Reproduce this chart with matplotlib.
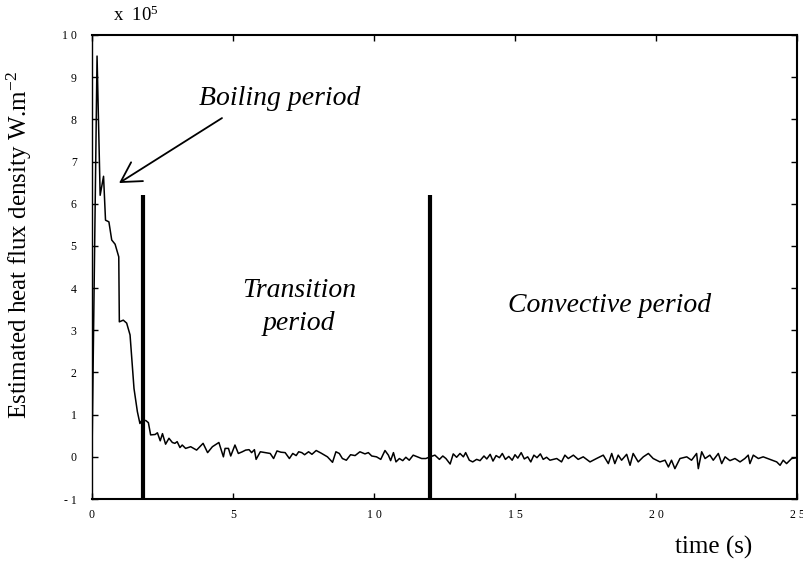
import matplotlib
matplotlib.use("Agg")
import matplotlib.pyplot as plt

plt.rcParams['font.family'] = ['Liberation Serif', 'DejaVu Serif']
plt.rcParams['mathtext.fontset'] = 'custom'
plt.rcParams['mathtext.rm'] = 'Liberation Serif'
plt.rcParams['mathtext.it'] = 'Liberation Serif:italic'

# ---- data (flux in units of 1e5 W.m-2) ----
time_s = [0.0, 0.18, 0.29, 0.41, 0.48, 0.60, 0.70, 0.82, 0.95, 0.97, 1.11, 1.23, 1.35, 1.49, 1.61, 1.70,
          1.77, 1.91, 2.00, 2.08, 2.24, 2.32, 2.42, 2.50, 2.61, 2.73, 2.85, 2.94, 3.02, 3.12, 3.20, 3.32,
          3.50, 3.71, 3.94, 4.10, 4.27, 4.50, 4.66, 4.72, 4.84, 4.92, 5.07, 5.19, 5.33, 5.45, 5.57, 5.66,
          5.76, 5.82, 5.97, 6.15, 6.32, 6.44, 6.56, 6.70, 6.85, 7.00, 7.12, 7.24, 7.33, 7.44, 7.54, 7.68,
          7.80, 7.95, 8.12, 8.35, 8.53, 8.65, 8.77, 8.88, 9.02, 9.17, 9.33, 9.50,
          9.68, 9.80, 9.92, 10.09, 10.24, 10.39, 10.51, 10.59, 10.69, 10.78, 10.90, 11.02, 11.13, 11.25,
          11.39, 11.54, 11.69, 11.84, 11.99, 12.16, 12.32, 12.44, 12.55, 12.70, 12.81, 12.93, 13.05,
          13.17, 13.25, 13.38, 13.50, 13.64, 13.76,
          13.90, 14.00, 14.12, 14.22, 14.33, 14.45, 14.55, 14.66, 14.78, 14.90, 15.00, 15.10, 15.22,
          15.33, 15.45, 15.56, 15.67, 15.78, 15.90, 16.00, 16.12,
          16.24, 16.48, 16.65, 16.77, 16.89, 17.07, 17.24, 17.42, 17.66, 17.89, 18.13, 18.31, 18.43,
          18.54, 18.66, 18.78, 18.96, 19.08, 19.19, 19.37, 19.55, 19.73, 19.90, 20.14, 20.32, 20.44,
          20.55, 20.67, 20.85, 21.09, 21.26, 21.44, 21.50, 21.62, 21.74, 21.91, 22.03, 22.21, 22.33,
          22.45, 22.62, 22.80, 22.98, 23.15, 23.27, 23.33, 23.45, 23.63, 23.80, 24.04, 24.28, 24.40,
          24.51, 24.63, 24.81, 25.00]
flux = [0.0, 9.5, 6.2, 6.65, 5.61, 5.57, 5.14, 5.04, 4.74, 3.2, 3.24, 3.17, 2.89, 1.62, 1.07, 0.79,
        0.87, 0.86, 0.81, 0.52, 0.53, 0.57, 0.38, 0.55, 0.30, 0.44, 0.34, 0.32, 0.36, 0.22, 0.28, 0.20,
        0.24, 0.16, 0.32, 0.10, 0.24, 0.34, 0.0, 0.20, 0.20, 0.02, 0.28, 0.08, 0.12, 0.16, 0.17, 0.10,
        0.17, -0.06, 0.12, 0.10, 0.08, -0.04, 0.14, 0.11, 0.10, -0.04, 0.08, 0.03, 0.12, 0.10, 0.05, 0.12,
        0.06, 0.15, 0.09, 0.0, -0.13, 0.12, 0.08, -0.04, -0.08, 0.05, 0.03, 0.12,
        0.07, 0.10, 0.02, 0.0, -0.06, 0.15, 0.04, -0.09, 0.10, -0.12, -0.04, -0.09, -0.01, -0.08,
        0.04, 0.0, -0.04, -0.04, 0.0, 0.04, -0.06, 0.02, -0.04, -0.17, 0.07, -0.01, 0.08,
        0.0, 0.10, -0.08, -0.12, -0.06, -0.09,
        0.02, -0.05, 0.06, -0.10, 0.03, -0.02, 0.08, -0.06, 0.01, -0.08, 0.05, -0.03, 0.10,
        -0.05, 0.0, -0.12, 0.04, -0.02, 0.07, -0.06, -0.01,
        -0.08, -0.04, -0.12, 0.04, -0.04, 0.04, -0.06, 0.0, -0.12, -0.04, 0.04, -0.16, 0.08,
        -0.16, 0.04, -0.08, 0.06, -0.20, 0.08, -0.12, 0.0, 0.08, -0.04, -0.12, -0.08, -0.24,
        -0.08, -0.28, -0.04, 0.0, -0.08, 0.08, -0.28, 0.12, -0.04, 0.04, -0.08, 0.08, -0.16,
        0.0, -0.09, -0.04, -0.12, -0.04, 0.04, -0.16, 0.04, -0.04, 0.0, -0.06, -0.12, -0.20,
        -0.08, -0.16, -0.04, -0.02]

period_bounds = [1.82, 12.0]
bound_top = 6.2

x_ticks = [0, 5, 10, 15, 20, 25]
x_tick_labels = ["0", "5", "1 0", "1 5", "2 0", "2 5"]
y_ticks = [-1, 0, 1, 2, 3, 4, 5, 6, 7, 8, 9, 10]
y_tick_labels = ["- 1", "0", "1", "2", "3", "4", "5", "6", "7", "8", "9", "1 0"]

fig = plt.figure(figsize=(8.04, 5.64), dpi=100)
ax = fig.add_axes([0.1144, 0.1152, 0.8769, 0.8228])

ax.plot(time_s, flux, color='black', lw=1.1)
for xb in period_bounds:
    ax.plot([xb, xb], [-1, bound_top], color='black', lw=3.0, solid_capstyle='butt')

ax.set_xlim(0, 25)
ax.set_ylim(-1, 10)
ax.set_xticks(x_ticks)
ax.set_xticklabels(x_tick_labels)
ax.set_yticks(y_ticks)
ax.set_yticklabels(y_tick_labels)
ax.tick_params(axis='both', direction='in', length=4, width=1, labelsize=8.5,
               top=True, right=True)
ax.tick_params(axis='y', pad=11)
ax.tick_params(axis='x', pad=7)
for side in ['bottom', 'top', 'right']:
    ax.spines[side].set_linewidth(1.5)
ax.spines['left'].set_linewidth(1.0)

# annotations
ax.text(6.67, 8.34, "Boiling period", style='italic', fontsize=20, ha='center', va='baseline')
ax.text(7.34, 3.79, "Transition", style='italic', fontsize=20, ha='center', va='baseline')
ax.text(7.34, 3.0, "period", style='italic', fontsize=20, ha='center', va='baseline')
ax.text(18.37, 3.43, "Convective period", style='italic', fontsize=20, ha='center', va='baseline')
ax.annotate('', xy=(0.96, 6.49), xytext=(4.61, 8.03),
            arrowprops=dict(arrowstyle='->,head_length=1.4,head_width=0.8', lw=1.3,
                            color='black', shrinkA=0, shrinkB=0))

fig.text(0.141, 0.962, "x  10$^{5}$", fontsize=13.5, ha='left', va='baseline')
fig.text(0.887, 0.030, "time (s)", fontsize=18, ha='center', va='center')
fig.text(0.024, 0.565, "Estimated heat flux density W.m$^{-2}$", fontsize=18, rotation=90,
         ha='center', va='center')

fig.savefig("out.png", dpi=100)
